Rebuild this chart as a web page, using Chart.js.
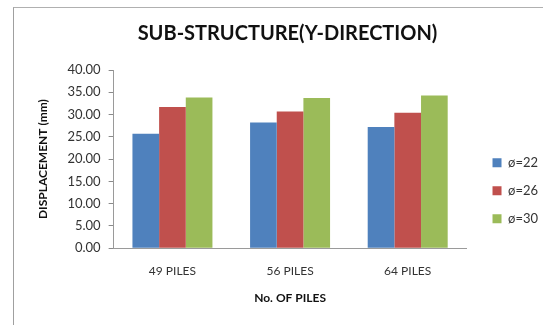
<!DOCTYPE html>
<html>
<head>
<meta charset="utf-8">
<script src="https://cdn.jsdelivr.net/npm/chart.js@4/dist/chart.umd.min.js"></script>
<style>
  html, body { margin: 0; padding: 0; background: #fff; }
  #wrap { position: relative; width: 543px; height: 325px; }
  #frame { position: absolute; left: 13px; top: 7px; right: 0; bottom: 0;
           border-left: 1px solid #a0a0a0; border-top: 1px solid #b0b0b0; pointer-events: none; }
  canvas { position: absolute; left: 0; top: 0; }
</style>
</head>
<body>
<div id="wrap">
  <canvas id="chart" width="543" height="325"></canvas>
  <div id="frame"></div>
</div>
<script>
const categories = ['49 PILES', '56 PILES', '64 PILES'];
const seriesNames = ['ø=22', 'ø=26', 'ø=30'];
const dia22 = [25.7, 28.2, 27.2];
const dia26 = [31.7, 30.7, 30.4];
const dia30 = [33.8, 33.7, 34.3];
const yTicks = [0, 5, 10, 15, 20, 25, 30, 35, 40];

const colors = ['#4F81BD', '#C0504D', '#9BBB59'];
const FONT = 'Lato, "Open Sans", sans-serif';

// trims the empty margin on the right of the legend box
const tightLegend = {
  id: 'tightLegend',
  beforeLayout(chart) {
    const lg = chart.legend;
    if (lg && !lg._trimmed) {
      const fit = lg.fit;
      lg.fit = function () { fit.call(this); this.width -= 5; };
      lg._trimmed = true;
    }
  }
};

new Chart(document.getElementById('chart'), {
  type: 'bar',
  data: {
    labels: categories,
    datasets: [dia22, dia26, dia30].map((vals, i) => ({
      label: seriesNames[i],
      data: vals,
      backgroundColor: colors[i],
      borderWidth: 0,
      categoryPercentage: 0.68,
      barPercentage: 1.0
    }))
  },
  plugins: [tightLegend],
  options: {
    responsive: false,
    animation: false,
    layout: { padding: { top: 8, left: 32, right: 0, bottom: 16 } },
    plugins: {
      title: {
        display: true,
        text: 'SUB-STRUCTURE(Y-DIRECTION)',
        color: '#111',
        font: { family: FONT, size: 20, weight: 'bold' },
        padding: { top: 14, bottom: 24 }
      },
      legend: {
        position: 'right',
        title: { display: true, text: ' ', font: { size: 12 }, padding: { top: 25, bottom: 25 } },
        labels: {
          boxWidth: 9, boxHeight: 9,
          padding: 15,
          color: '#333',
          font: { family: FONT, size: 13 }
        }
      },
      tooltip: { enabled: false }
    },
    scales: {
      x: {
        grid: { display: false },
        border: { display: true, color: '#9a9a9a', width: 1 },
        ticks: { color: '#333', font: { family: FONT, size: 12 }, padding: 8 },
        title: {
          display: true, text: 'No. OF PILES', color: '#111',
          font: { family: FONT, size: 12, weight: 'bold' }, padding: { top: 4 }
        }
      },
      y: {
        z: 1,
        min: 0, max: 40,
        afterBuildTicks: (axis) => { axis.ticks = yTicks.map(v => ({ value: v })); },
        grid: {
          color: (ctx) => ctx.tick && ctx.tick.value === 0 ? 'rgba(0,0,0,0)' : 'rgba(255,255,255,0.35)',
          tickColor: '#8a8a8a',
          tickLength: 5,
          lineWidth: 1
        },
        border: { display: true, color: '#9a9a9a', width: 1 },
        ticks: {
          color: '#333', font: { family: FONT, size: 13 }, padding: 8,
          callback: (v) => Number(v).toFixed(2)
        },
        title: {
          display: true, text: 'DISPLACEMENT (mm)', color: '#111',
          font: { family: FONT, size: 12, weight: 'bold' }, padding: { bottom: 9 }
        }
      },
      // empty spacer between the plot and the legend
      gap: {
        position: 'right',
        display: true,
        grid: { display: false },
        border: { display: false },
        ticks: { display: false },
        afterFit: (axis) => { axis.width = 11; }
      }
    }
  }
});
</script>
</body>
</html>
